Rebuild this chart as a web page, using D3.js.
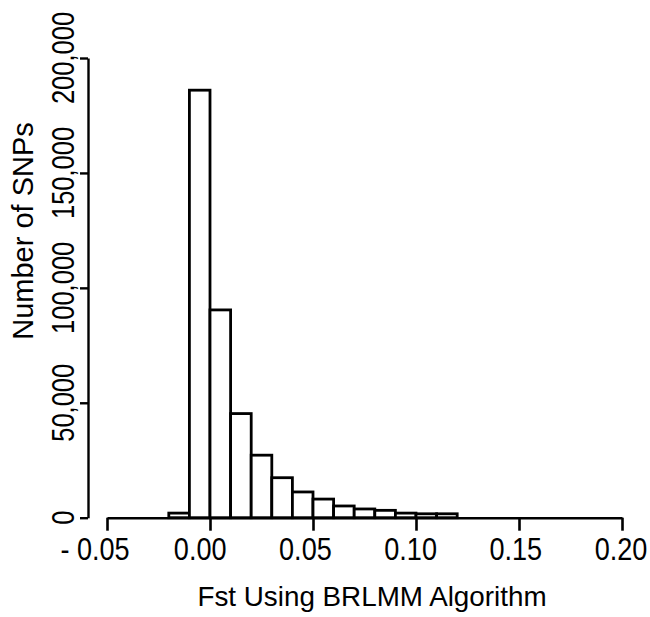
<!DOCTYPE html>
<html>
<head>
<meta charset="utf-8">
<script src="https://cdn.jsdelivr.net/npm/d3@7"></script>
<style>
  html, body { margin: 0; padding: 0; background: #fff; }
  svg { display: block; }
  text { font-family: "Liberation Sans", Arial, Helvetica, sans-serif; fill: #000; }
</style>
</head>
<body>
<svg id="chart" width="650" height="617"></svg>
<script>
// ---- data ----
const binStarts = [-0.02, -0.01, 0.00, 0.01, 0.02, 0.03, 0.04, 0.05, 0.06, 0.07, 0.08, 0.09, 0.10, 0.11];
const binWidth = 0.01;
const counts = [2000, 186000, 90400, 45300, 27200, 17400, 11200, 8100, 5100, 3800, 3200, 2000, 1700, 1700];
const xTicks = [-0.05, 0.00, 0.05, 0.10, 0.15, 0.20];
const xTickLabels = ["- 0.05", "0.00", "0.05", "0.10", "0.15", "0.20"];
const yTicks = [0, 50000, 100000, 150000, 200000];
const yTickLabels = ["0", "50,000", "100,000", "150,000", "200,000"];
const xTitle = "Fst Using BRLMM Algorithm";
const yTitle = "Number of SNPs";

// ---- layout ----
const svg = d3.select("#chart");
const x = d3.scaleLinear().domain([-0.05, 0.20]).range([107, 622]);
const xLabelPos = d3.scaleLinear().domain([-0.05, 0.20]).range([95, 621]);
const y = d3.scaleLinear().domain([0, 200000]).range([517.7, 58]);

// bars
svg.append("g")
  .selectAll("rect")
  .data(binStarts.map((s, i) => ({ s, c: counts[i] })))
  .join("rect")
  .attr("x", d => x(d.s))
  .attr("width", d => x(d.s + binWidth) - x(d.s))
  .attr("y", d => y(d.c))
  .attr("height", d => y(0) - y(d.c))
  .attr("fill", "#fff")
  .attr("stroke", "#000")
  .attr("stroke-width", 2.8);

// x axis
const xAxis = svg.append("g")
  .attr("transform", `translate(0,${y(0)})`)
  .call(d3.axisBottom(x).tickValues(xTicks).tickFormat("").tickSize(13).tickSizeOuter(0));
xAxis.select(".domain").attr("stroke", "#000").attr("stroke-width", 2.6);
xAxis.selectAll(".tick line").attr("stroke", "#000").attr("stroke-width", 2.6);

svg.append("g")
  .selectAll("g")
  .data(xTicks)
  .join("g")
  .attr("transform", d => `translate(${xLabelPos(d)},559.5) scale(0.86,1)`)
  .append("text")
  .attr("text-anchor", "middle")
  .attr("font-size", 31.5)
  .text((d, i) => xTickLabels[i]);

// y axis
const yAxis = svg.append("g")
  .attr("transform", `translate(88,0)`)
  .call(d3.axisLeft(y).tickValues(yTicks).tickFormat("").tickSize(8).tickSizeOuter(0));
yAxis.select(".domain").attr("stroke", "#000").attr("stroke-width", 2.4);
yAxis.selectAll(".tick line").attr("stroke", "#000").attr("stroke-width", 2.4);

svg.append("g")
  .selectAll("g")
  .data(yTicks)
  .join("g")
  .attr("transform", d => `translate(74,${y(d)}) rotate(-90) scale(0.81,1)`)
  .append("text")
  .attr("text-anchor", "middle")
  .attr("font-size", 31.5)
  .text((d, i) => yTickLabels[i]);

// titles
svg.append("text")
  .attr("x", 372)
  .attr("y", 605.7)
  .attr("text-anchor", "middle")
  .attr("font-size", 27.8)
  .text(xTitle);

svg.append("g")
  .attr("transform", "translate(33,231) rotate(-90)")
  .append("text")
  .attr("text-anchor", "middle")
  .attr("font-size", 29)
  .text(yTitle);
</script>
</body>
</html>
